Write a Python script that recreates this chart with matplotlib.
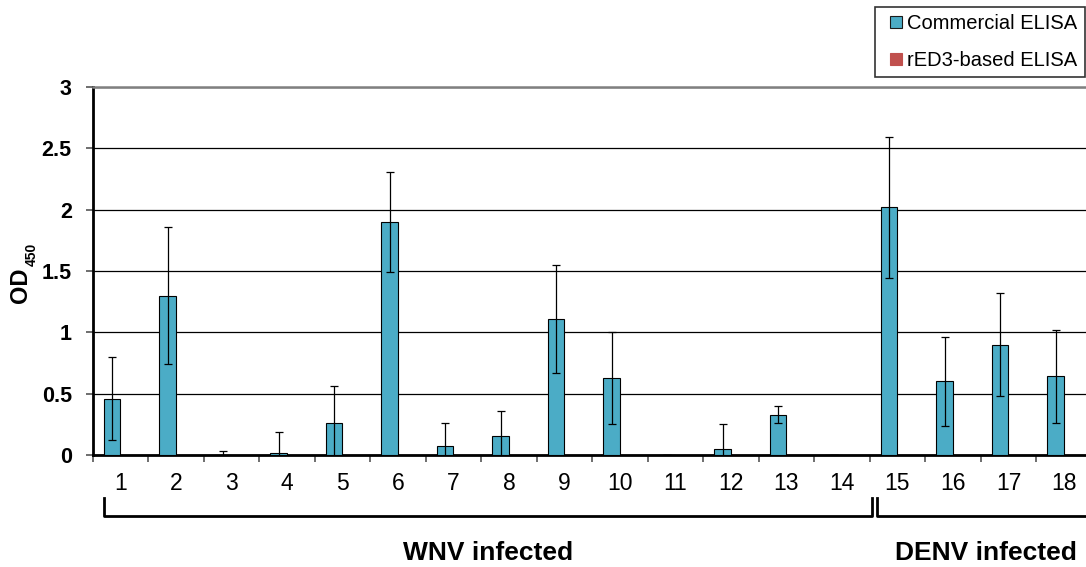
import numpy as np
import matplotlib
matplotlib.use("Agg")
import matplotlib.pyplot as plt
import matplotlib.transforms as mtransforms
from matplotlib.lines import Line2D

plt.rcParams['font.family'] = ['Liberation Sans', 'DejaVu Sans']

# data
samples = [str(i) for i in range(1, 19)]
commercial = [0.46, 1.30, 0.00, 0.02, 0.26, 1.90, 0.073, 0.155, 1.11,
              0.63, 0.00, 0.05, 0.33, 0.00, 2.02, 0.60, 0.90, 0.64]
commercial_err = [0.34, 0.555, 0.03, 0.165, 0.30, 0.41, 0.19, 0.20, 0.44,
                  0.375, 0.0, 0.20, 0.07, 0.0, 0.575, 0.36, 0.42, 0.38]
red3 = [0.0] * 18
groups = ["WNV infected", "DENV infected"]

blue = "#4BACC6"
red = "#C0504D"

fig = plt.figure(figsize=(10.86, 5.67), dpi=100)
W, H = 1086, 567
ax = fig.add_axes([92.7 / W, (H - 455) / H, 999 / W, 368 / H])

x = np.arange(1, 19)
w = 0.3
ax.bar(x - w / 2, commercial, w, color=blue, edgecolor="black", linewidth=0.8, zorder=3)
ax.bar(x + w / 2, red3, w, color=red, linewidth=0, zorder=3)
ax.errorbar(x - w / 2, commercial, yerr=commercial_err, fmt="none", ecolor="black",
            elinewidth=0.9, capsize=3, capthick=0.9, zorder=4)

ax.set_xlim(0.5, 18.5)
ax.set_ylim(0, 3)
ax.set_yticks(np.arange(0, 3.01, 0.5))
ax.set_yticklabels(["0", "0.5", "1", "1.5", "2", "2.5", "3"], fontsize=15.5, fontweight="bold")
ax.yaxis.grid(True, color="black", linewidth=0.9, zorder=0)
ax.tick_params(axis="y", length=5, width=1.2, color="#555555", pad=10)

# category boundaries as major ticks, labels as minor
ax.set_xticks(np.arange(0.5, 18.6, 1))
ax.set_xticklabels([])
ax.set_xticks(x, minor=True)
ax.set_xticklabels(samples, minor=True, fontsize=16.5)
ax.tick_params(axis="x", which="major", length=5, width=1.2, color="#555555")
ax.tick_params(axis="x", which="minor", length=0, pad=12)

for s in ["left", "bottom"]:
    ax.spines[s].set_linewidth(2)
ax.spines["top"].set_color("#808080")
ax.spines["top"].set_linewidth(1.8)
ax.spines["right"].set_visible(False)

# y label: OD with a small subscript 450
fig.text(20.5 / W, 1 - 285.5 / H, "OD", rotation=90, ha="center", va="center",
         fontsize=17, fontweight="bold")
fig.text(31.5 / W, 1 - 254.5 / H, "450", rotation=90, ha="center", va="center",
         fontsize=10, fontweight="bold")

# group brackets below the axis
tr = mtransforms.blended_transform_factory(ax.transData, ax.transAxes)
y_top, y_bot = -0.117, -0.166
ax.plot([0.71, 0.71, 14.54, 14.54], [y_top, y_bot, y_bot, y_top], color="black",
        linewidth=2, transform=tr, clip_on=False)
ax.plot([14.63, 14.63, 18.6], [y_top, y_bot, y_bot], color="black",
        linewidth=2, transform=tr, clip_on=False)
ax.text(7.62, -0.266, groups[0], transform=tr, ha="center", va="center",
        fontsize=19, fontweight="bold")
ax.text(16.6, -0.266, groups[1], transform=tr, ha="center", va="center",
        fontsize=19, fontweight="bold")

handles = [Line2D([], [], linestyle="none", marker="s", markersize=8.2,
                  markerfacecolor=blue, markeredgecolor="#1a1a1a", markeredgewidth=0.8),
           Line2D([], [], linestyle="none", marker="s", markersize=8.2,
                  markerfacecolor=red, markeredgecolor=red, markeredgewidth=0.8)]
leg = fig.legend(handles, ["Commercial ELISA", "rED3-based ELISA"], loc="upper left",
                 bbox_to_anchor=(875 / W, 1 - 7 / H), fontsize=14.5, frameon=True,
                 fancybox=False, edgecolor="black", handlelength=1.36,
                 handletextpad=-0.13, labelspacing=0.85, borderpad=0.37, borderaxespad=0)
leg.get_frame().set_linewidth(1.2)

fig.savefig("out.png", dpi=100)
